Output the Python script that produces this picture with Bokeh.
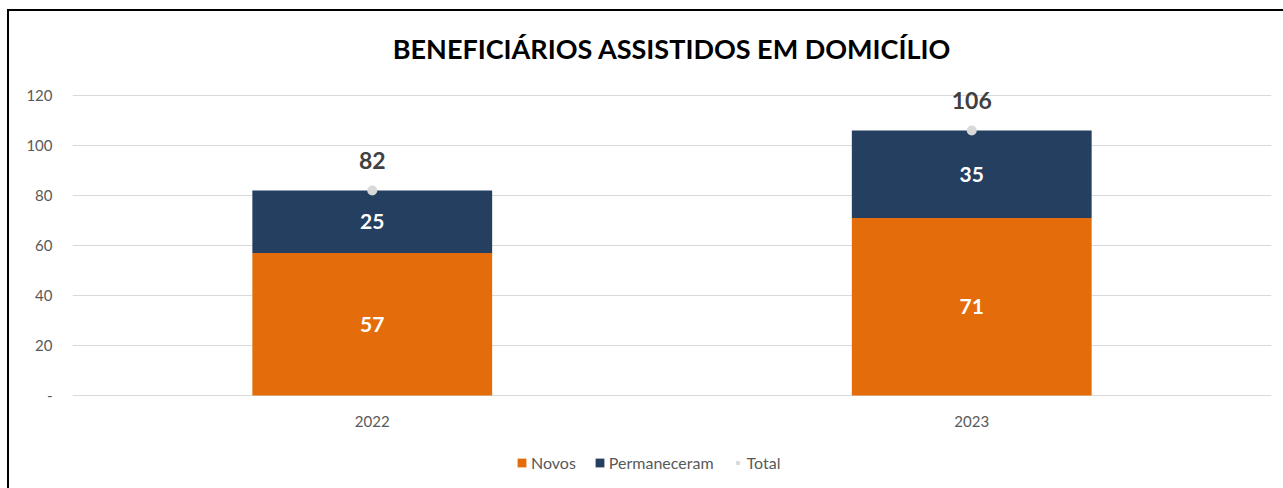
from bokeh.plotting import figure
from bokeh.models import ColumnDataSource, FixedTicker, Legend, LegendItem, LabelSet, Range1d
from bokeh.core.properties import value
from bokeh.embed import file_html
from bokeh.resources import INLINE

years = ["2022", "2023"]
novos = [57, 71]
permaneceram = [25, 35]
total = [82, 106]
y_ticks = [0, 20, 40, 60, 80, 100, 120]

ORANGE = "#E46C0A"
NAVY = "#243F60"
GREY_PT = "#D9D9D9"
FONT = "Lato"

src = ColumnDataSource(dict(
    years=years,
    novos=novos,
    permaneceram=permaneceram,
    total=total,
    novos_mid=[n / 2 for n in novos],
    perm_mid=[n + p / 2 for n, p in zip(novos, permaneceram)],
    novos_txt=[str(v) for v in novos],
    perm_txt=[str(v) for v in permaneceram],
    total_txt=[str(v) for v in total],
))

# frame extends below the zero line so that category labels and legend can sit inside it
p = figure(x_range=years, y_range=Range1d(-36.4, 126),
           frame_width=1199, frame_height=406,
           output_backend="svg", toolbar_location=None,
           min_border_left=63, min_border_right=12, min_border_top=69, min_border_bottom=0)

p.title.text = "BENEFICIÁRIOS ASSISTIDOS EM DOMICÍLIO"
p.title.align = "center"
p.title.text_font = FONT
p.title.text_font_size = "27px"
p.title.text_font_style = "bold"
p.title.text_color = "#000000"
p.title.offset = 0
p.title.standoff = 32

r = p.vbar_stack(["novos", "permaneceram"], x="years", width=0.4, source=src,
                 color=[ORANGE, NAVY], line_color=None)
pts = p.scatter(x="years", y="total", source=src, size=10, color=GREY_PT, line_color=None)

lbl_style = dict(text_font=value(FONT), text_font_size=value("21px"), text_font_style=value("bold"),
                 text_align=value("center"), text_baseline=value("middle"))
p.add_layout(LabelSet(x="years", y="novos_mid", text="novos_txt", source=src,
                      text_color="white", **lbl_style))
p.add_layout(LabelSet(x="years", y="perm_mid", text="perm_txt", source=src,
                      text_color="white", **lbl_style))
p.add_layout(LabelSet(x="years", y="total", text="total_txt", source=src, y_offset=30,
                      text_color="#404040", **{**lbl_style, "text_font_size": value("23px")}))

# category labels under the zero line
p.add_layout(LabelSet(x="years", y=0, text="years", source=src, y_offset=-26,
                      text_color="#595959", text_font=value(FONT), text_font_size=value("15px"),
                      text_align=value("center"), text_baseline=value("middle")))

p.xgrid.grid_line_color = None
p.ygrid.grid_line_color = "#D9D9D9"
p.ygrid.grid_line_width = 1
p.outline_line_color = None
p.xaxis.visible = False

p.yaxis.ticker = FixedTicker(ticks=y_ticks)
p.yaxis.major_label_overrides = {0: "-"}
p.yaxis.axis_line_color = None
p.yaxis.major_tick_line_color = None
p.yaxis.minor_tick_line_color = None
p.yaxis.major_label_text_font = FONT
p.yaxis.major_label_text_font_size = "15px"
p.yaxis.major_label_text_color = "#595959"
p.yaxis.major_label_standoff = 14

legend = Legend(items=[
    LegendItem(label="Novos", renderers=[r[0]]),
    LegendItem(label="Permaneceram", renderers=[r[1]]),
    LegendItem(label="Total", renderers=[pts]),
], orientation="horizontal", location=(444, 14), border_line_color=None,
    background_fill_alpha=0,
    label_text_font=FONT, label_text_font_size="16px", label_text_color="#595959",
    glyph_width=11, glyph_height=11, spacing=18, label_standoff=4, margin=0, padding=4)
p.add_layout(legend, "center")

html = file_html(p, INLINE)
css = ("<style>html,body{overflow:hidden !important;}"
       "body{margin:9px 0 0 7px !important;border-left:2px solid #000;border-top:2px solid #000;}</style>")
html = html.replace("</head>", css + "</head>", 1)
open("out.html", "w").write(html)
